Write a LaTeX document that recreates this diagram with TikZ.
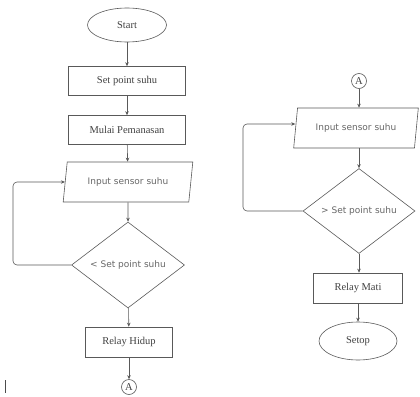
\documentclass[tikz,border=0pt]{standalone}
\usepackage{fontspec}
\setmainfont{Liberation Serif}
\newfontfamily\sansf{DejaVu Sans}
\usetikzlibrary{shapes.geometric,arrows.meta}
\begin{document}
\begin{tikzpicture}[x=1pt,y=-1pt,
  every node/.style={draw=black!65, line width=0.6pt, font=\fontsize{10.5}{12}\selectfont, text=black!75},
  term/.style={ellipse, inner sep=0pt},
  proc/.style={rectangle, inner sep=0pt},
  io/.style={trapezium, trapezium left angle=73, trapezium right angle=107, trapezium stretches=true, inner sep=0pt, font=\sansf\fontsize{9}{10}\selectfont, text=black!60},
  dec/.style={diamond, inner sep=0pt, font=\sansf\fontsize{9}{10}\selectfont, text=black!60},
  conn/.style={circle, inner sep=0pt, minimum size=15pt},
  flow/.style={draw=black!65, line width=0.6pt, -{Stealth[length=4pt,width=3.5pt]}},
  loop/.style={flow, rounded corners=4pt}]
\path[use as bounding box] (0,0) rectangle (420,396);
% left column
\node[term, minimum width=79pt, minimum height=34pt] (start) at (127,25) {Start};
\node[proc, minimum width=117pt, minimum height=29pt] (sp) at (127,81) {Set point suhu};
\node[proc, minimum width=117pt, minimum height=29pt] (mp) at (127,130) {Mulai Pemanasan};
\node[io, minimum width=130pt, minimum height=40pt] (in1) at (128,182) {Input sensor suhu};
\node[dec, minimum width=113pt, minimum height=86pt] (d1) at (128,265) {< Set point suhu};
\node[proc, minimum width=87pt, minimum height=30pt] (rh) at (129,342) {Relay Hidup};
\node[conn] (a1) at (129,387) {A};
\draw[flow] (start) -- (sp);
\draw[flow] (sp) -- (mp);
\draw[flow] (mp) -- (in1);
\draw[flow] (in1) -- (d1);
\draw[flow] (d1) -- (rh);
\draw[flow] (rh) -- (a1);
\coordinate (l1b) at (13,265);
\coordinate (l1t) at (13,182);
\draw[loop] (d1.west) -- (l1b) -- (l1t) -- (in1.west);
% cursor mark
\draw[black!70, line width=0.6pt] (5,380) -- (5,393);
% right column
\node[conn] (a2) at (359,81) {A};
\node[io, minimum width=125pt, minimum height=40pt] (in2) at (356,128) {Input sensor suhu};
\node[dec, minimum width=112pt, minimum height=85pt] (d2) at (359,211) {> Set point suhu};
\node[proc, minimum width=89pt, minimum height=30pt] (rm) at (358,288) {Relay Mati};
\node[term, minimum width=78pt, minimum height=38pt] (stop) at (358,341) {Setop};
\draw[flow] (a2) -- (a2 |- in2.north);
\draw[flow] (in2.south -| d2.north) -- (d2);
\draw[flow] (d2) -- (rm.north -| d2);
\draw[flow] (rm) -- (stop);
\coordinate (l2b) at (243,211);
\coordinate (l2t) at (243,124);
\draw[loop] (d2.west) -- (l2b) -- (l2t) -- (in2.west |- l2t);
\end{tikzpicture}
\end{document}
